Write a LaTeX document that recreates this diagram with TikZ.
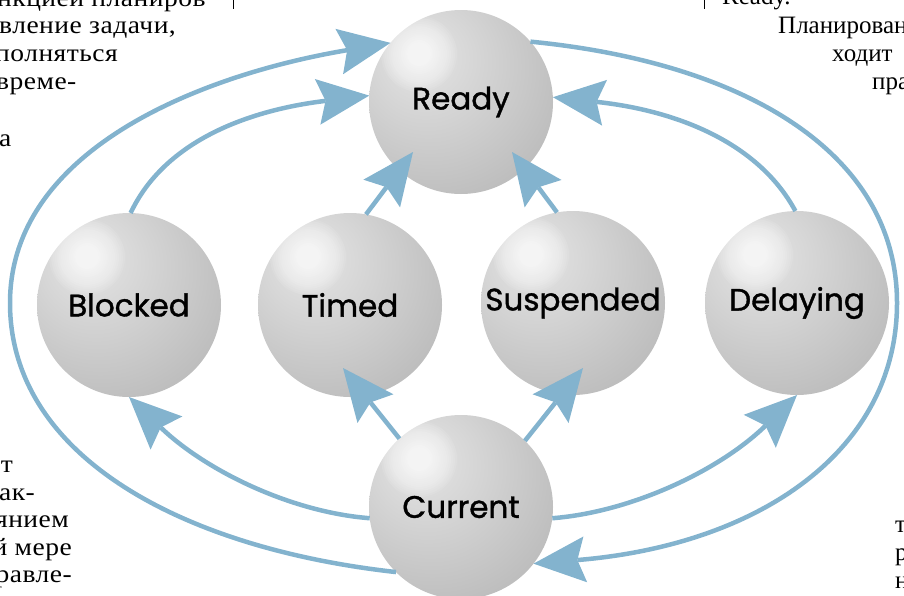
\documentclass[tikz,border=0pt]{standalone}
\usepackage{fontspec}
\setmainfont{Liberation Serif}[FakeStretch=1.1, LetterSpace=2]
\newfontfamily\plainserif{Liberation Serif}
\newfontfamily\labelfont{Poppins}[FakeBold=1.2]
\usetikzlibrary{arrows.meta,calc}
\definecolor{arrowblue}{RGB}{131,179,206}
\pgfdeclareradialshading{sph}{\pgfpoint{-12bp}{14bp}}{color(0bp)=(black!10); color(18bp)=(black!18); color(38bp)=(black!27); color(52bp)=(black!36); color(66bp)=(black!45); color(80bp)=(black!48)}
\begin{document}
\begin{tikzpicture}[x=1pt,y=-1pt,
  sphere/.style={circle, minimum size=184pt, inner sep=0pt, outer sep=0pt,
    shading=sph, font=\labelfont\fontsize{31}{36}\selectfont,
    path picture={\foreach \rr in {2,4,...,38}{\fill[white, opacity=0.09]
      (path picture bounding box.center) ++(-42pt,48pt) circle[radius=\rr pt];}}},
  flow/.style={draw=arrowblue, line width=4.5pt,
    -{Stealth[length=52pt,width=46pt,inset=8pt,line width=0pt]}},
  page/.style={font=\fontsize{25}{28}\selectfont, inner sep=0pt},
  pageR/.style={font=\plainserif\fontsize{25}{28}\selectfont, inner sep=0pt}]
\useasboundingbox (0,0) rectangle (904,595);
\clip (0,0) rectangle (904,595);

% stray page text
\node[page, anchor=base west] (p1) at (-3,6) {нкцией планиров};
\node[page, anchor=base west] (p2) at (-1,33) {вление задачи,};
\node[page, anchor=base west] (p3) at (-5,61) {полняться};
\node[page, anchor=base west] (p4) at (-4,89) {време-};
\node[page, anchor=base west] (p5) at (-1,146) {а};
\node[page, anchor=base east] (p6) at (13,472) {т};
\node[page, anchor=base east] (p7) at (35,500) {рак-};
\node[page, anchor=base east] (p8) at (69,527) {янием};
\node[page, anchor=base east] (p9) at (72,555) {й мере};
\node[page, anchor=base east] (p10) at (72,582) {правле-};
\node[pageR, anchor=base west] (p11) at (722,4) {Ready.};
\node[pageR, anchor=base west] (p12) at (778,33) {Планирован};
\node[pageR, anchor=base west] (p13) at (832,61) {ходит};
\node[pageR, anchor=base west] (p14) at (872,89) {пра};
\node[pageR, anchor=base west] (p15) at (895,532) {т};
\node[pageR, anchor=base west] (p16) at (895,560) {р};
\node[pageR, anchor=base west] (p17) at (895,588) {н};
\draw[line width=0.8pt] (233,0) -- (233,9);
\draw[line width=0.8pt] (704,0) -- (704,9);

% spheres
\node[sphere] (Ready) at (461,102) {Ready};
\node[sphere] (Blocked) at (129,305) {Blocked};
\node[sphere] (Timed) at (350,305) {Timed};
\node[sphere] (Suspended) at (573,303) {Suspended};
\node[sphere] (Delaying) at (797,303) {Delaying};
\node[sphere] (Current) at (461,507) {Current};

% connectors
\draw[flow] (Current.225) .. controls (180,548) and (10,455) .. (10,303)
  .. controls (10,150) and (200,75) .. (Ready.140);
\draw[flow] (Blocked.89) .. controls (165,140) and (250,110) .. (Ready.176);
\draw[flow] (Ready.41) .. controls (740,62) and (897,150) .. (897,303)
  .. controls (897,450) and (760,545) .. (Current.322);
\draw[flow] (Delaying.91) .. controls (757,140) and (672,110) .. (Ready.3);
\draw[flow] (Timed.80) -- ($(Ready.center)+(-48,50)$);
\draw[flow] (Suspended.100) -- ($(Ready.center)+(51,50)$);
\draw[flow] (Current.132) -- ($(Timed.center)+(-7,63)$);
\draw[flow] (Current.46) -- ($(Suspended.center)+(10,65)$);
\draw[flow] (Current.187) .. controls (290,512) and (205,470) .. (Blocked.270);
\draw[flow] (Current.353) .. controls (632,512) and (720,470) .. (Delaying.270);
\end{tikzpicture}
\end{document}
